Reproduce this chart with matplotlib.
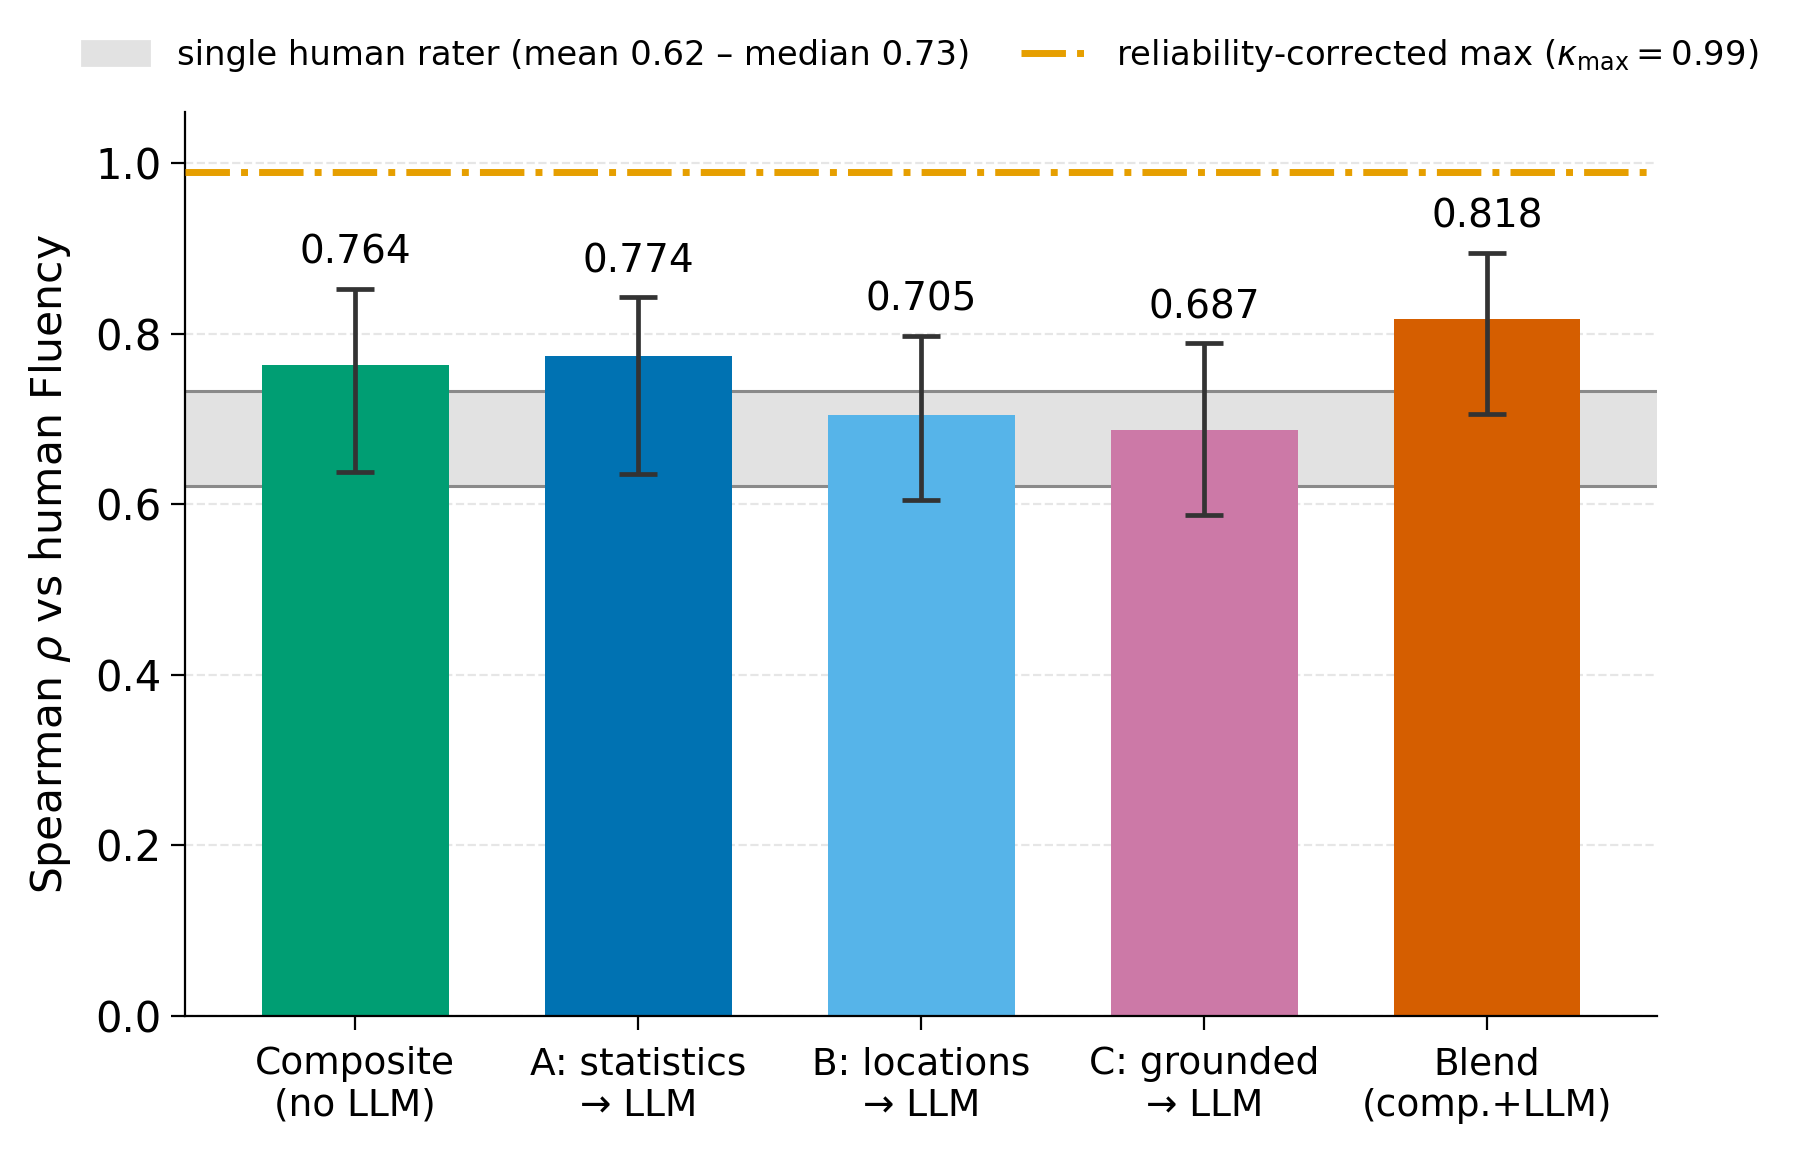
import numpy as np
import matplotlib.pyplot as plt

# data
methods = ["Composite\n(no LLM)", "A: statistics\n\u2192 LLM", "B: locations\n\u2192 LLM",
           "C: grounded\n\u2192 LLM", "Blend\n(comp.+LLM)"]
rho = [0.764, 0.774, 0.705, 0.687, 0.818]
ci_low = [0.638, 0.635, 0.605, 0.588, 0.706]
ci_high = [0.853, 0.843, 0.798, 0.789, 0.895]
bar_colors = ["#009E73", "#0072B2", "#56B4E9", "#CC79A7", "#D55E00"]
human_mean = 0.622
human_median = 0.733
kappa_max = 0.99

fig = plt.figure(figsize=(9, 5.79), dpi=200)
ax = fig.add_axes([0.103, 0.123, 0.8175, 0.780])

x = np.arange(len(methods))
yerr = np.array([np.subtract(rho, ci_low), np.subtract(ci_high, rho)])

# human rater band
ax.axhspan(human_mean, human_median, color="#e2e2e2", zorder=0,
           label=f"single human rater (mean {human_mean:.2f} \u2013 median {human_median:.2f})")
ax.axhline(human_mean, color="#8a8a8a", lw=1.1, zorder=0.5)
ax.axhline(human_median, color="#8a8a8a", lw=1.1, zorder=0.5)

ax.axhline(kappa_max, color="#E69F00", lw=2.5, ls="-.",
           label=r"reliability-corrected max ($\kappa_{\max}=0.99$)", zorder=3)

ax.bar(x, rho, width=0.66, color=bar_colors, zorder=2)
ax.errorbar(x, rho, yerr=yerr, fmt="none", ecolor="#333333", elinewidth=1.7,
            capsize=7, capthick=1.7, zorder=4)

for xi, hi, v in zip(x, ci_high, rho):
    ax.text(xi, hi + 0.02, f"{v:.3f}", ha="center", va="bottom", fontsize=14)

ax.set_xlim(-0.6, 4.6)
ax.set_ylim(0, 1.06)
ax.set_xticks(x)
ax.set_xticklabels(methods, fontsize=13.5)
ax.set_yticks([0.0, 0.2, 0.4, 0.6, 0.8, 1.0])
ax.tick_params(axis="y", labelsize=15, length=5)
ax.tick_params(axis="x", length=5, pad=6)
ax.set_ylabel(r"Spearman $\rho$ vs human Fluency", fontsize=15.3, labelpad=8)
ax.yaxis.grid(True, ls="--", color="#e6e6e6", lw=0.8, zorder=0)
ax.set_axisbelow(True)
for s in ["top", "right"]:
    ax.spines[s].set_visible(False)

fig.legend(loc="center", bbox_to_anchor=(0.511, 0.952), ncol=2, frameon=False,
           fontsize=12.2, handlelength=2.0, columnspacing=1.5)

fig.savefig("out.png", dpi=200)
